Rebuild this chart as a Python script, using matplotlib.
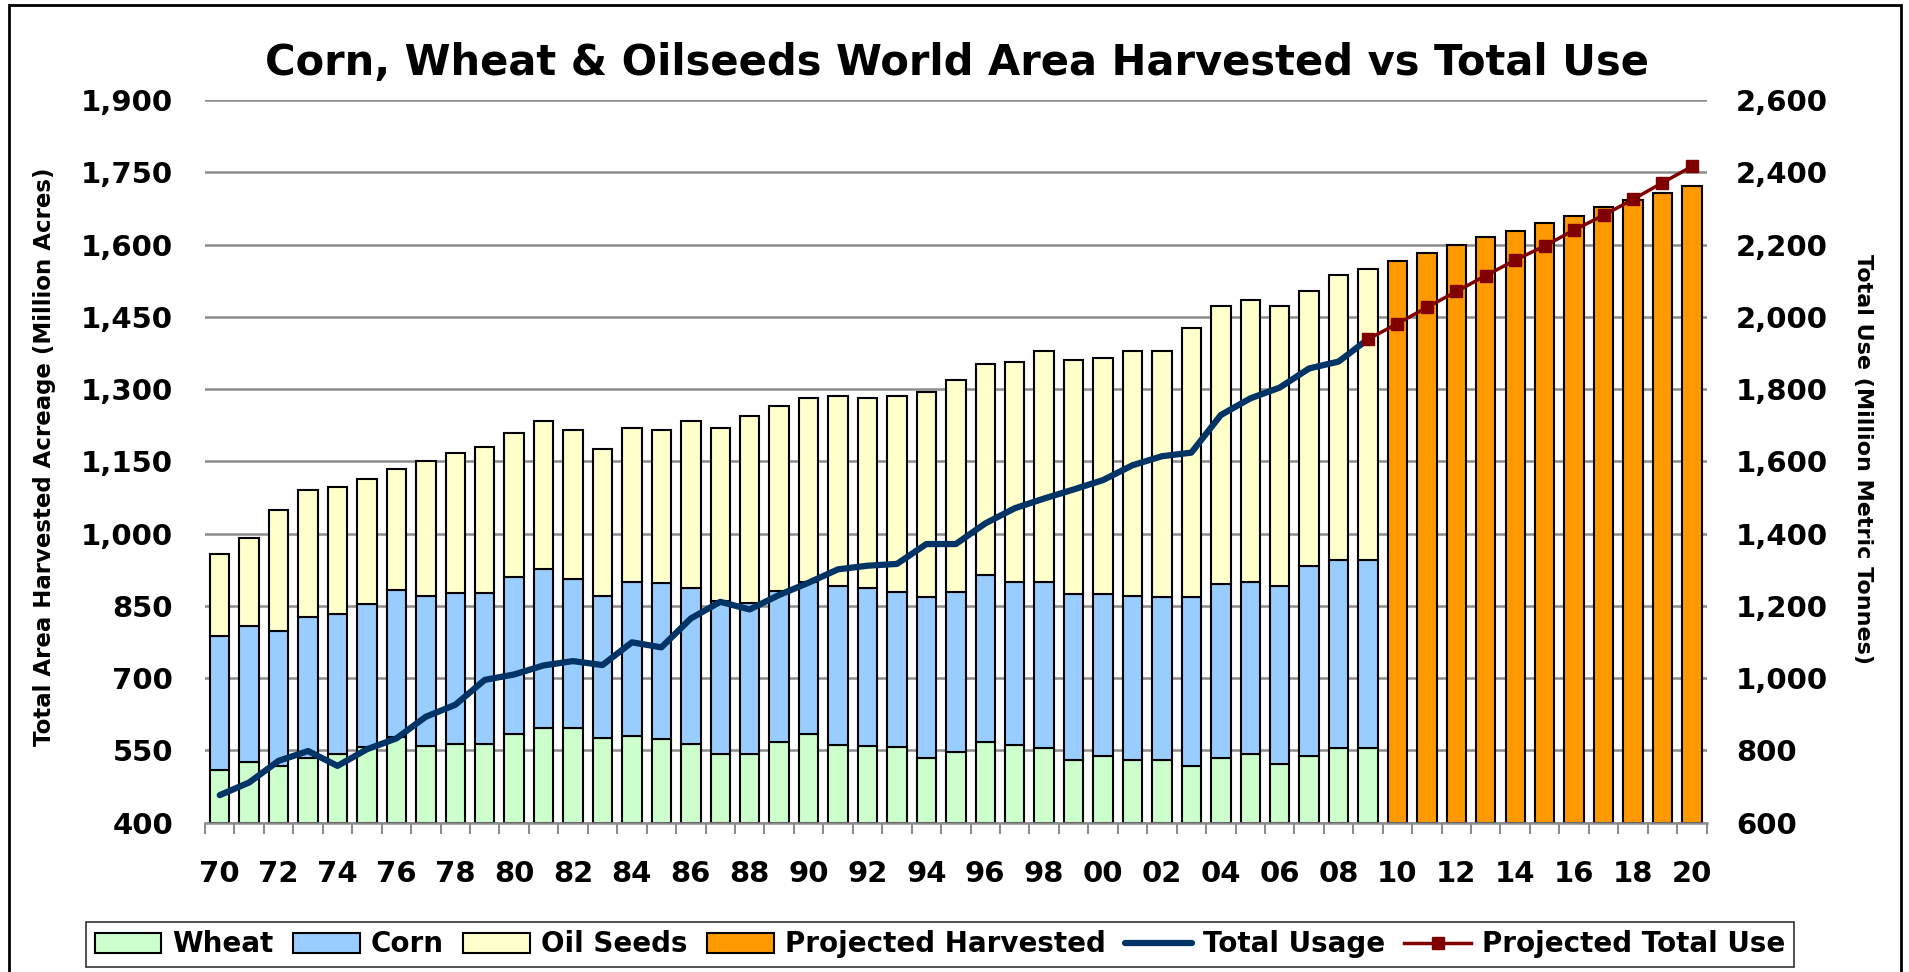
import numpy as np
import matplotlib
matplotlib.use("Agg")
import matplotlib.pyplot as plt
from matplotlib.patches import Rectangle

# ---------------- data ----------------
year_labels = [f"{y % 100:02d}" for y in range(1970, 2021)]

wheat = [509, 526, 518, 535, 543, 556, 577, 560, 563, 563,
         583, 597, 597, 576, 579, 573, 563, 542, 542, 567,
         583, 562, 559, 556, 535, 547, 567, 562, 555, 530,
         538, 530, 530, 518, 535, 542, 522, 538, 555, 555]
corn = [279, 282, 280, 291, 291, 298, 306, 311, 313, 313,
        326, 329, 308, 295, 321, 324, 324, 318, 314, 314,
        317, 329, 328, 322, 333, 332, 348, 337, 344, 344,
        336, 341, 338, 350, 360, 357, 369, 395, 390, 390]
oil_seeds = [170, 183, 250, 264, 263, 259, 251, 280, 292, 304,
             299, 308, 311, 304, 320, 319, 347, 360, 387, 384,
             382, 395, 395, 408, 425, 440, 437, 458, 479, 486,
             491, 507, 510, 558, 577, 585, 581, 571, 592, 604]
projected_harvested = [1566, 1582, 1599, 1615, 1628, 1644, 1660, 1677, 1693, 1706, 1722]

total_usage = [676, 711, 771, 798, 757, 803, 833, 893, 926, 995,
               1010, 1035, 1047, 1036, 1099, 1085, 1165, 1211, 1190, 1230,
               1264, 1301, 1311, 1316, 1371, 1371, 1428, 1470, 1497, 1522,
               1548, 1589, 1614, 1624, 1728, 1774, 1804, 1857, 1876, 1938]
projected_total_use = [1938, 1981, 2026, 2070, 2114, 2157, 2196, 2240, 2281, 2325, 2371, 2416]

left_ticks = list(range(400, 1901, 150))
right_ticks = list(range(600, 2601, 200))

# ---------------- style ----------------
plt.rcParams['font.family'] = ['DejaVu Sans']
plt.rcParams['font.weight'] = 'bold'

C_WHEAT = '#CCFFCC'
C_CORN = '#99CCFF'
C_OIL = '#FFFFCC'
C_PROJ = '#FF9900'
C_USE = '#003366'
C_PUSE = '#800000'
GRID = '#8c8c8c'

W, H = 1909, 972
fig = plt.figure(figsize=(W / 100, H / 100), dpi=100)
fig.patch.set_facecolor('white')

ax_l, ax_r, ax_t, ax_b = 205, 1706.6, 100, 822.6
ax = fig.add_axes([ax_l / W, 1 - ax_b / H, (ax_r - ax_l) / W, (ax_b - ax_t) / H])

n_hist = len(wheat)
n_all = len(year_labels)
x_hist = np.arange(n_hist)
x_proj = np.arange(n_hist, n_all)

wheat_a = np.array(wheat)
corn_a = np.array(corn)
oil_a = np.array(oil_seeds)

bw = 0.66
elw = 1.5
bottom0 = 400
b1 = ax.bar(x_hist, wheat_a - bottom0, bottom=bottom0, width=bw, color=C_WHEAT,
            edgecolor='black', linewidth=elw, label='Wheat', zorder=2)
b2 = ax.bar(x_hist, corn_a, bottom=wheat_a, width=bw, color=C_CORN,
            edgecolor='black', linewidth=elw, label='Corn', zorder=2)
b3 = ax.bar(x_hist, oil_a, bottom=wheat_a + corn_a, width=bw, color=C_OIL,
            edgecolor='black', linewidth=elw, label='Oil Seeds', zorder=2)
b4 = ax.bar(x_proj, np.array(projected_harvested) - bottom0, bottom=bottom0, width=bw,
            color=C_PROJ, edgecolor='black', linewidth=elw, label='Projected Harvested', zorder=2)

ax.set_xlim(-0.5, n_all - 0.5)
ax.set_ylim(400, 1900)
ax.set_yticks(left_ticks)
ax.set_yticklabels([f"{v:,}" for v in left_ticks], fontsize=21, fontweight='bold')
ax.tick_params(axis='y', length=0, pad=23)

ax.set_xticks(np.arange(0, n_all, 2))
ax.set_xticklabels(year_labels[::2], fontsize=21, fontweight='bold')
ax.set_xticks(np.arange(-0.5, n_all, 1), minor=True)
ax.tick_params(axis='x', which='major', length=0, pad=27)
ax.tick_params(axis='x', which='minor', length=8, width=1.5, color=GRID, direction='out')

ax.yaxis.grid(True, color=GRID, linewidth=1.8, zorder=0)
ax.set_axisbelow(True)
for s in ['top', 'left', 'right']:
    ax.spines[s].set_visible(False)
ax.spines['bottom'].set_color(GRID)
ax.spines['bottom'].set_linewidth(1.8)

ax2 = ax.twinx()
ax2.set_ylim(600, 2600)
ax2.set_yticks(right_ticks)
ax2.set_yticklabels([f"{v:,}" for v in right_ticks], fontsize=21, fontweight='bold')
ax2.tick_params(axis='y', length=0, pad=21)
for s in ax2.spines.values():
    s.set_visible(False)

l1, = ax2.plot(x_hist, total_usage, color=C_USE, linewidth=4.5,
               solid_joinstyle='round', solid_capstyle='round', label='Total Usage', zorder=3)
l2, = ax2.plot(np.arange(n_hist - 1, n_all), projected_total_use, color=C_PUSE, linewidth=2.5,
               marker='s', markersize=9, markerfacecolor=C_PUSE, markeredgecolor=C_PUSE,
               label='Projected Total Use', zorder=4)

# ---------------- texts ----------------
fig.text(957 / W, 1 - 63 / H, 'Corn, Wheat & Oilseeds World Area Harvested vs Total Use',
         ha='center', va='center', fontsize=30, fontweight='bold')
fig.text(45 / W, 1 - 457 / H, 'Total Area Harvested Acreage (Million Acres)',
         rotation=90, ha='center', va='center', fontsize=16.5, fontweight='bold')
fig.text(1863 / W, 1 - 459 / H, 'Total Use (Million Metric Tonnes)',
         rotation=270, ha='center', va='center', fontsize=16, fontweight='bold')

leg = fig.legend([b1, b2, b3, b4, l1, l2],
                 ['Wheat', 'Corn', 'Oil Seeds', 'Projected Harvested', 'Total Usage', 'Projected Total Use'],
                 ncol=6, loc='center', bbox_to_anchor=(940 / W, 1 - 944.5 / H),
                 prop={'size': 20, 'weight': 'bold'}, frameon=True, fancybox=False,
                 edgecolor='black', handlelength=2.4, handleheight=0.7, handletextpad=0.4,
                 columnspacing=0.7, borderpad=0.3)
leg.get_frame().set_linewidth(1.2)

fig.add_artist(Rectangle((9 / W, -0.02), (1901 - 9) / W, 1.02 - 5 / H,
                         transform=fig.transFigure, fill=False, edgecolor='black', linewidth=2))

fig.savefig('out.png', dpi=100)
